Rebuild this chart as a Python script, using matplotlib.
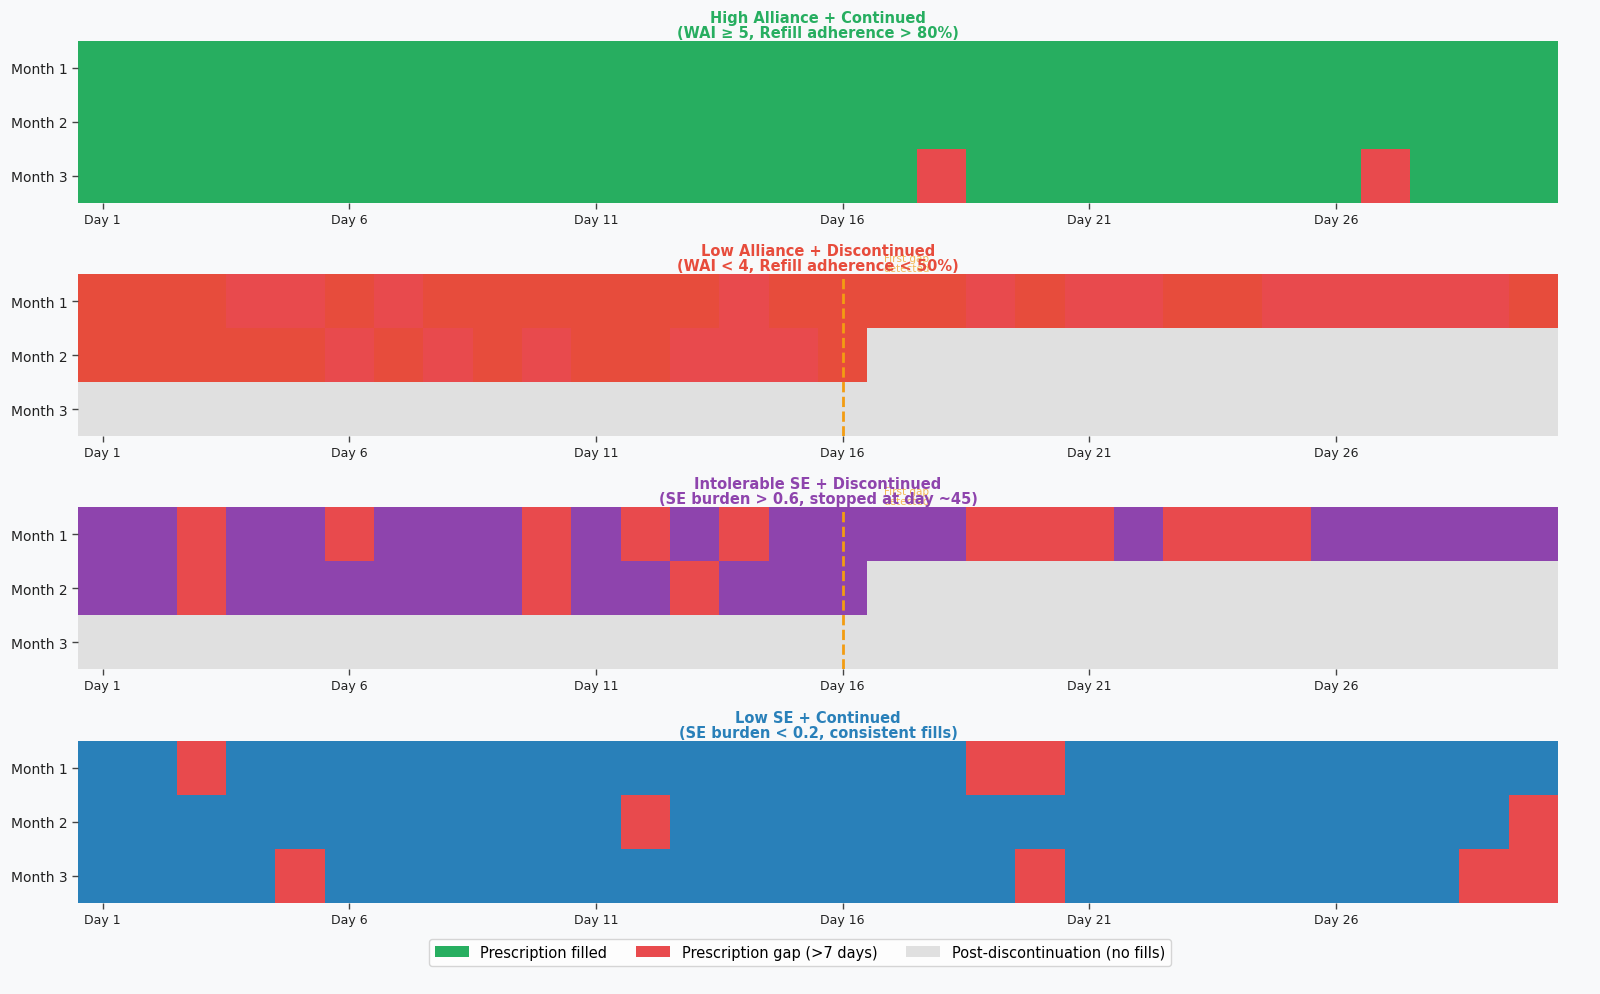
import numpy as np
import matplotlib
matplotlib.use("Agg")
import matplotlib.pyplot as plt
from matplotlib.colors import ListedColormap
from matplotlib.patches import Patch

# ---- data ----
# codes: 0 = prescription filled, 1 = gap (>7 days), 2 = post-discontinuation
months = ["Month 1", "Month 2", "Month 3"]
day_ticks = [1, 6, 11, 16, 21, 26]
n_days = 30

titles = [
    "High Alliance + Continued\n(WAI \u2265 5, Refill adherence > 80%)",
    "Low Alliance + Discontinued\n(WAI < 4, Refill adherence < 50%)",
    "Intolerable SE + Discontinued\n(SE burden > 0.6, stopped at day ~45)",
    "Low SE + Continued\n(SE burden < 0.2, consistent fills)",
]
panel_colors = ["#27ae60", "#e74c3c", "#8e44ad", "#2980b9"]
gap_color = "#e84a4d"
post_color = "#e0e0e0"

# gap days (1-based) per month; discontinuation day (first day of no fills) per month
high_alliance_gaps = {1: [], 2: [], 3: [18, 27]}
high_alliance_stop = {1: None, 2: None, 3: None}

low_alliance_gaps = {1: [4, 5, 7, 14, 19, 21, 22, 25, 26, 27, 28, 29],
                     2: [6, 8, 10, 13, 14, 15], 3: []}
low_alliance_stop = {1: None, 2: 17, 3: 1}

intolerable_gaps = {1: [3, 6, 10, 12, 14, 19, 20, 21, 23, 24, 25],
                    2: [3, 10, 13], 3: []}
intolerable_stop = {1: None, 2: 17, 3: 1}

low_se_gaps = {1: [3, 19, 20], 2: [12, 30], 3: [5, 20, 29, 30]}
low_se_stop = {1: None, 2: None, 3: None}

panels_gaps = [high_alliance_gaps, low_alliance_gaps, intolerable_gaps, low_se_gaps]
panels_stop = [high_alliance_stop, low_alliance_stop, intolerable_stop, low_se_stop]
discontinuation_marker_day = [None, 16, 16, None]


def build_grid(gaps, stop):
    grid = np.zeros((len(months), n_days), dtype=int)
    for m in range(1, len(months) + 1):
        for d in gaps[m]:
            grid[m - 1, d - 1] = 1
        if stop[m] is not None:
            grid[m - 1, stop[m] - 1:] = 2
    return grid


bg = "#f8f9fa"
fig = plt.figure(figsize=(16, 9.95), dpi=100, facecolor=bg)

left, width = 0.04875, 0.925
bottoms = [0.795, 0.5608, 0.3266, 0.0915]
height = 0.1628

for i in range(4):
    ax = fig.add_axes([left, bottoms[i], width, height])
    ax.set_facecolor(bg)
    grid = build_grid(panels_gaps[i], panels_stop[i])
    cmap = ListedColormap([panel_colors[i], gap_color, post_color])
    ax.imshow(grid, cmap=cmap, vmin=0, vmax=2, aspect="auto",
              interpolation="nearest")
    ax.set_yticks(range(len(months)))
    ax.set_yticklabels(months, fontsize=10)
    ax.set_xticks([d - 1 for d in day_ticks])
    ax.set_xticklabels([f"Day {d}" for d in day_ticks], fontsize=9)
    ax.tick_params(axis="both", colors="#444444", length=4, width=1)
    for lbl in ax.get_xticklabels() + ax.get_yticklabels():
        lbl.set_color("#222222")
    for s in ax.spines.values():
        s.set_visible(False)
    ax.set_title(titles[i], fontsize=10.5, fontweight="bold",
                 color=panel_colors[i], pad=3, linespacing=1.0)
    if discontinuation_marker_day[i] is not None:
        x = discontinuation_marker_day[i] - 1
        ax.axvline(x, color="#f39c12", linestyle="--", linewidth=2)
        ax.text(x + 1.3, -0.7, "First gap\ndetected", fontsize=7.5,
                color="#f39c12", alpha=0.7, ha="center", va="center",
                linespacing=1.0, clip_on=False)

handles = [Patch(facecolor="#27ae60", label="Prescription filled"),
           Patch(facecolor=gap_color, label="Prescription gap (>7 days)"),
           Patch(facecolor=post_color, label="Post-discontinuation (no fills)")]
fig.legend(handles=handles, loc="center", bbox_to_anchor=(0.5, 0.042),
           ncol=3, fontsize=10.5, frameon=True, facecolor="white",
           edgecolor="#cccccc", handlelength=2.3, handleheight=0.8,
           columnspacing=2.0)

fig.savefig("out.png", dpi=100, facecolor=bg)
